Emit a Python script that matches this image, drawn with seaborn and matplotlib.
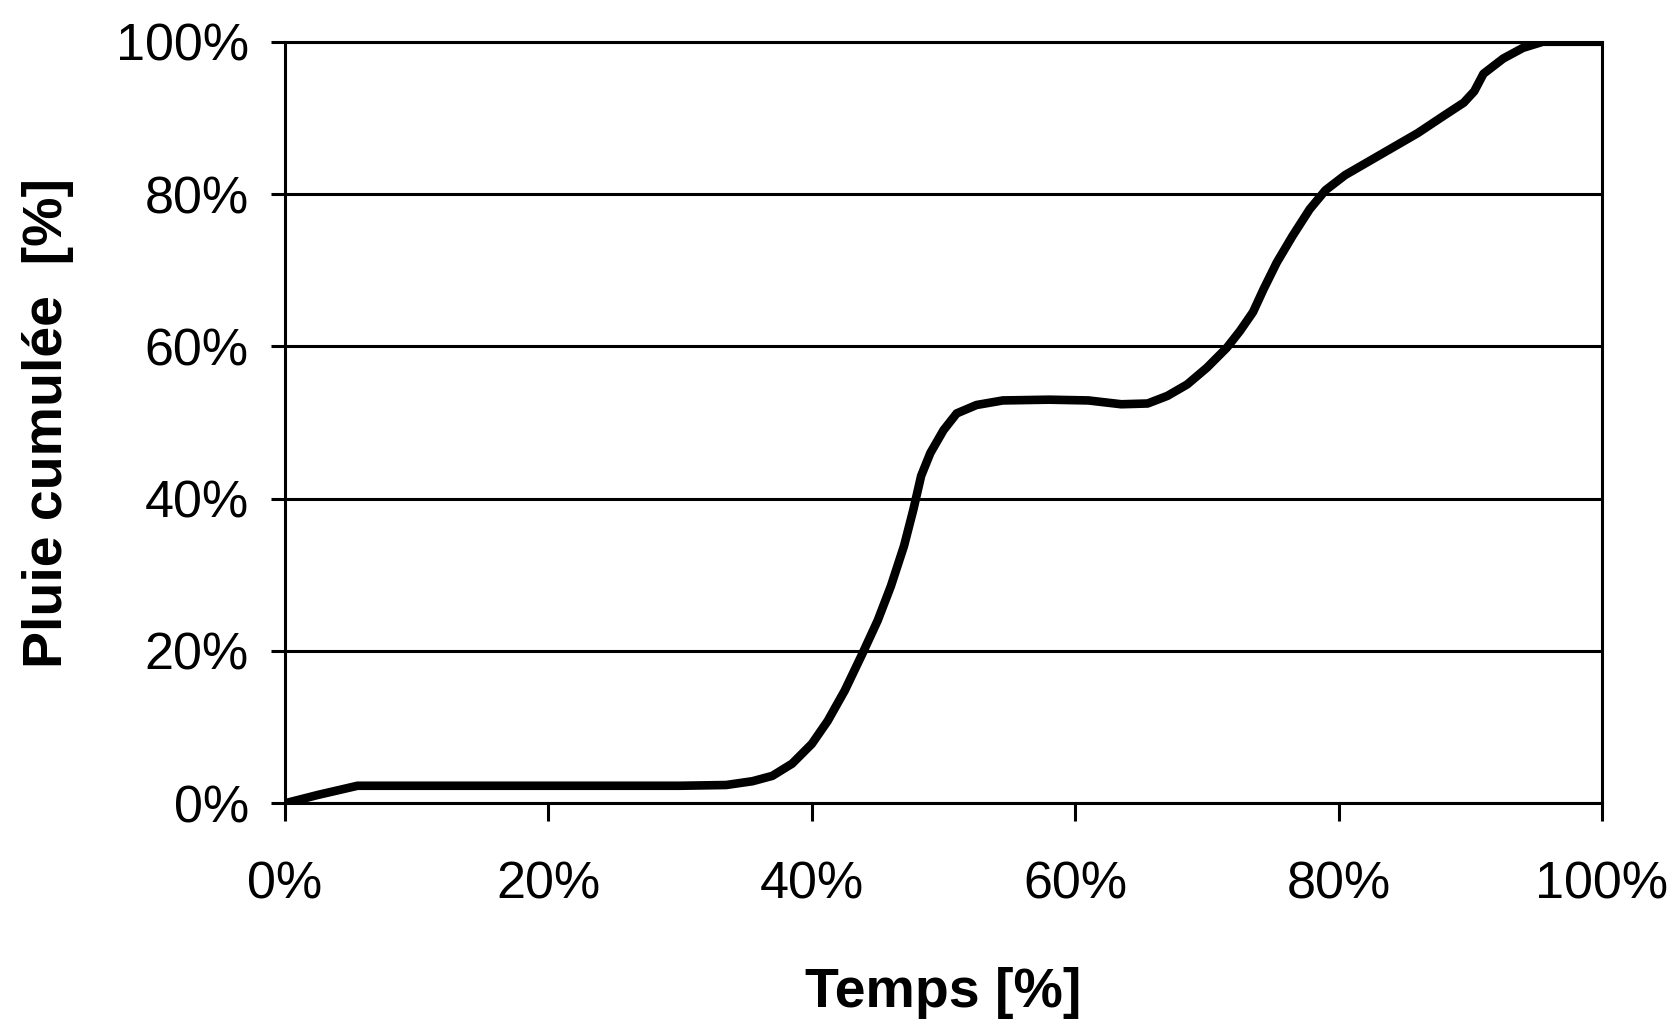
import numpy as np
import pandas as pd
import matplotlib
matplotlib.use("Agg")
import matplotlib.pyplot as plt
import seaborn as sns
from matplotlib.ticker import PercentFormatter

# cumulative rainfall curve (both in %)
temps = [0, 2.5, 5.5, 10, 20, 30, 33.5, 35.5, 37, 38.5, 40, 41.2, 42.5, 43.8,
         45, 46, 47, 47.7, 48.3, 49, 50, 51, 52.5, 54.5, 58, 61, 63.5, 65.5,
         67, 68.5, 70, 71.5, 72.5, 73.5, 74.3, 75.3, 76.5, 77.8, 79, 80.5,
         82, 84, 86, 88, 89.5, 90.3, 91, 92.5, 94, 95.5, 100]
pluie = [0, 1.1, 2.3, 2.3, 2.3, 2.3, 2.4, 2.9, 3.6, 5.2, 7.8, 10.8, 14.8, 19.5,
         24, 28.5, 33.8, 38.5, 43, 46, 49, 51.2, 52.3, 52.9, 53, 52.9, 52.4, 52.5,
         53.5, 55, 57.2, 59.8, 62, 64.5, 67.5, 71, 74.5, 78, 80.5, 82.5,
         84, 86, 88, 90.3, 92, 93.5, 95.8, 97.8, 99.2, 100, 100]

ticks = [0, 20, 40, 60, 80, 100]

df = pd.DataFrame({"temps": temps, "pluie": pluie})

sns.set_style("white")
plt.rcParams["font.family"] = ["Liberation Sans", "DejaVu Sans"]
plt.rcParams["text.color"] = "black"
plt.rcParams["axes.labelcolor"] = "black"
plt.rcParams["xtick.color"] = "black"
plt.rcParams["ytick.color"] = "black"

fig, ax = plt.subplots(figsize=(16.71, 10.19), dpi=100)
fig.subplots_adjust(left=0.1706, right=0.9587, top=0.959, bottom=0.2117)

sns.lineplot(data=df, x="temps", y="pluie", color="black", linewidth=6.2,
             solid_capstyle="round", solid_joinstyle="round", ax=ax, zorder=3)

# finetune
ax.set_xlim(0, 100)
ax.set_ylim(0, 100)
ax.set_xticks(ticks)
ax.set_yticks(ticks)
ax.xaxis.set_major_formatter(PercentFormatter(decimals=0))
ax.yaxis.set_major_formatter(PercentFormatter(decimals=0))
ax.yaxis.grid(True, color="black", linewidth=2.2)
ax.xaxis.grid(False)
for sp in ax.spines.values():
    sp.set_color("black")
    sp.set_linewidth(2.2)
ax.tick_params(axis="x", direction="out", length=13, width=2.2, pad=28,
               labelsize=37.5, bottom=True, colors="black")
ax.tick_params(axis="y", direction="out", length=10, width=2.2, pad=16,
               labelsize=37.5, left=True, colors="black")

ax.set_xlabel("Temps [%]", fontsize=40, fontweight="bold", color="black")
ax.set_ylabel("Pluie cumulée  [%]", fontsize=40, fontweight="bold", color="black")
ax.xaxis.set_label_coords(0.5, -0.215)
ax.yaxis.set_label_coords(-0.16, 0.5)

fig.savefig("out.png", dpi=100)
